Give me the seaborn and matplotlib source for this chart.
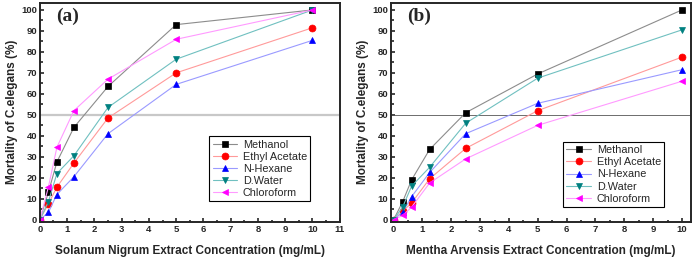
import numpy as np
import pandas as pd
import matplotlib
matplotlib.use('Agg')
import matplotlib.pyplot as plt
import seaborn as sns
from matplotlib.ticker import MultipleLocator

sns.set_style('ticks')
plt.rcParams['font.family'] = ['Liberation Sans', 'DejaVu Sans']

# concentraciones (mg/mL)
conc = [0, 0.3125, 0.625, 1.25, 2.5, 5, 10]
solvents = ['Methanol', 'Ethyl Acetate', 'N-Hexane', 'D.Water', 'Chloroform']

# panel (a) Solanum Nigrum
sn_methanol = [0, 13, 27.5, 44, 63.5, 93, 100]
sn_ethyl = [0, 7.5, 15.5, 27, 48.5, 70, 91.5]
sn_hexane = [0, 3.5, 12, 20.5, 41, 64.5, 85.5]
sn_water = [0, 8.5, 22, 30.5, 53.5, 76.5, 100]
sn_chloro = [0, 15.5, 34.5, 52, 67, 86, 100]

# panel (b) Mentha Arvensis
ma_methanol = [0, 8.5, 19, 33.5, 51, 69.5, 100]
ma_ethyl = [0, 4, 8, 19.5, 34, 52, 77.5]
ma_hexane = [0, 3.5, 11, 22.5, 41, 55.5, 71.5]
ma_water = [0, 6, 16, 25, 46, 67.5, 90.5]
ma_chloro = [0, 2, 6, 17.5, 29, 45, 66]

marker_colors = ['black', 'red', 'blue', '#008080', 'magenta']
line_colors = ['#8c8c8c', '#ff9a9a', '#9a9aff', '#70c0c0', '#ff9aff']
markers = ['s', 'o', '^', 'v', '<']

fig, axes = plt.subplots(1, 2, figsize=(6.99, 2.6), dpi=100)
plt.subplots_adjust(left=0.057, right=0.988, bottom=0.147, top=0.99, wspace=0.17)

panels = [
    (axes[0], [sn_methanol, sn_ethyl, sn_hexane, sn_water, sn_chloro],
     'Solanum Nigrum Extract Concentration (mg/mL)', '(a)', (0, 11), 11,
     (0.565, 0.39), '#c8c8c8', 1.6),
    (axes[1], [ma_methanol, ma_ethyl, ma_hexane, ma_water, ma_chloro],
     'Mentha Arvensis Extract Concentration (mg/mL)', '(b)', (-0.1, 10.3), 10,
     (0.575, 0.365), '#555555', 0.6),
]

for ax, series, xlabel, tag, xlim, xmax, anchor, hcol, hlw in panels:
    ax.axhline(50, color=hcol, lw=hlw, zorder=1)
    for name, vals, mc, lc, mk in zip(solvents, series, marker_colors, line_colors, markers):
        sns.lineplot(x=conc, y=vals, ax=ax, color=lc, lw=0.8, marker=mk,
                     markersize=5, mfc=mc, mec=mc, mew=0.5, label=name)
    ax.set_xlim(*xlim)
    ax.set_ylim(-1, 103.5)
    ax.set_xticks(range(0, xmax + 1))
    ax.set_yticks(range(0, 101, 10))
    ax.xaxis.set_minor_locator(MultipleLocator(0.5))
    ax.yaxis.set_minor_locator(MultipleLocator(5))
    ax.tick_params(direction='in', which='both', labelsize=6.8, width=1.2, length=3, pad=2)
    ax.tick_params(which='minor', length=1.8)
    for lab in ax.get_xticklabels() + ax.get_yticklabels():
        lab.set_fontweight('bold')
    for sp in ax.spines.values():
        sp.set_linewidth(1.4)
    ax.set_xlabel(xlabel, fontsize=8.5, fontweight='bold', labelpad=8)
    ax.set_ylabel('Mortality of C.elegans (%)', fontsize=8.5, fontweight='bold', labelpad=2)
    ax.text(0.055, 0.975, tag, transform=ax.transAxes, fontsize=14, fontweight='bold',
            family=['Liberation Serif', 'DejaVu Serif'], va='top', ha='left')
    ax.legend(loc='upper left', bbox_to_anchor=anchor, fontsize=7.8,
              frameon=True, fancybox=False, edgecolor='black', framealpha=1,
              handlelength=2.3, borderpad=0.3, labelspacing=0.2, handletextpad=0.5,
              borderaxespad=0)
    ax.get_legend().get_frame().set_linewidth(0.8)

fig.savefig('out.png', dpi=100)
